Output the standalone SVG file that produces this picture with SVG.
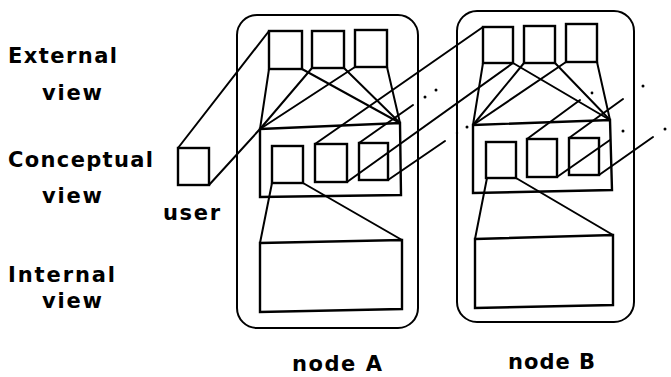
<svg xmlns="http://www.w3.org/2000/svg" width="671" height="377" viewBox="0 0 671 377">
  <style>
    .frame { fill: none; stroke: #000; stroke-width: 2; }
    .box { fill: none; stroke: #000; stroke-width: 2.4; stroke-linejoin: miter; }
    .ln { fill: none; stroke: #000; stroke-width: 2; stroke-linecap: round; }
    .dot { fill: #000; }
    .lbl { font-family: "DejaVu Sans", "Liberation Sans", sans-serif; font-weight: bold; font-size: 21px; fill: #000; }
  </style>
  <rect width="671" height="377" fill="#fff"/>

  <!-- level labels -->
  <g id="labels">
    <text class="lbl" x="8" y="63" textLength="109" lengthAdjust="spacing">External</text>
    <text class="lbl" x="42" y="100" textLength="60" lengthAdjust="spacing">view</text>
    <text class="lbl" x="8" y="167" textLength="145" lengthAdjust="spacing">Conceptual</text>
    <text class="lbl" x="42" y="203" textLength="60" lengthAdjust="spacing">view</text>
    <text class="lbl" x="8" y="282" textLength="107" lengthAdjust="spacing">Internal</text>
    <text class="lbl" x="42" y="308" textLength="60" lengthAdjust="spacing">view</text>
  </g>

  <!-- user -->
  <g id="user">
    <rect class="box" x="178" y="148" width="31" height="37"/>
    <text class="lbl" x="163" y="220" font-size="23" textLength="57" lengthAdjust="spacing">user</text>
  </g>

  <!-- node A -->
  <g id="node-a">
    <rect class="frame" x="237" y="15" width="181" height="313" rx="20"/>
    <rect class="box" x="269" y="31" width="33" height="38"/>
    <rect class="box" x="312" y="31" width="32" height="37"/>
    <rect class="box" x="355" y="30" width="32" height="37"/>
    <polygon class="box" points="260,129 400,123 401,195 260,197"/>
    <rect class="box" x="272" y="146" width="31" height="37"/>
    <rect class="box" x="315" y="144" width="32" height="38"/>
    <rect class="box" x="359" y="143" width="29" height="37"/>
    <polygon class="box" points="260,243 402,240 402,309 260,312"/>
    <text class="lbl" x="292" y="371" textLength="90" lengthAdjust="spacing">node A</text>
  </g>

  <!-- node B -->
  <g id="node-b">
    <rect class="frame" x="457" y="11" width="177" height="311" rx="20"/>
    <rect class="box" x="483" y="27" width="30" height="36"/>
    <rect class="box" x="524" y="26" width="31" height="37"/>
    <rect class="box" x="566" y="24" width="31" height="38"/>
    <polygon class="box" points="473,125 610,120 612,190 473,193"/>
    <rect class="box" x="486" y="142" width="30" height="36"/>
    <rect class="box" x="527" y="139" width="30" height="38"/>
    <rect class="box" x="569" y="138" width="30" height="37"/>
    <polygon class="box" points="475,239 613,235 613,305 475,308"/>
    <text class="lbl" x="508" y="369" textLength="87" lengthAdjust="spacing">node B</text>
  </g>

  <!-- connectors -->
  <g id="connectors">
    <!-- user to node A -->
    <line class="ln" x1="178" y1="148" x2="269" y2="31"/>
    <line class="ln" x1="209" y1="185" x2="260" y2="129"/>

    <!-- node A: external views to conceptual view -->
    <line class="ln" x1="269" y1="69" x2="260" y2="129"/>
    <line class="ln" x1="302" y1="69" x2="400" y2="123"/>
    <line class="ln" x1="312" y1="68" x2="260" y2="129"/>
    <line class="ln" x1="344" y1="68" x2="400" y2="123"/>
    <line class="ln" x1="355" y1="67" x2="260" y2="129"/>
    <line class="ln" x1="387" y1="67" x2="400" y2="123"/>
    <!-- node A: conceptual to internal -->
    <line class="ln" x1="272" y1="183" x2="260" y2="243"/>
    <line class="ln" x1="303" y1="183" x2="402" y2="240"/>

    <!-- node B: external views to conceptual view -->
    <line class="ln" x1="483" y1="63" x2="473" y2="125"/>
    <line class="ln" x1="513" y1="63" x2="610" y2="120"/>
    <line class="ln" x1="524" y1="63" x2="473" y2="125"/>
    <line class="ln" x1="555" y1="63" x2="610" y2="120"/>
    <line class="ln" x1="566" y1="62" x2="473" y2="125"/>
    <line class="ln" x1="597" y1="62" x2="610" y2="120"/>
    <!-- node B: conceptual to internal -->
    <line class="ln" x1="487" y1="178" x2="475" y2="239"/>
    <line class="ln" x1="516" y1="178" x2="613" y2="235"/>

    <!-- node A to node B -->
    <line class="ln" x1="315" y1="144" x2="483" y2="27"/>
    <line class="ln" x1="347" y1="182" x2="513" y2="63"/>

    <!-- outgoing links, continued by dots -->
    <line class="ln" x1="359" y1="143" x2="413" y2="105"/>
    <line class="ln" x1="388" y1="180" x2="445" y2="141"/>
    <line class="ln" x1="527" y1="139" x2="580" y2="100"/>
    <line class="ln" x1="557" y1="177" x2="610" y2="140"/>
    <line class="ln" x1="569" y1="138" x2="623" y2="99"/>
    <line class="ln" x1="599" y1="175" x2="653" y2="137"/>
    <circle class="dot" cx="425" cy="97" r="1.5"/>
    <circle class="dot" cx="436" cy="90" r="1.5"/>
    <circle class="dot" cx="457" cy="133" r="1.2"/>
    <circle class="dot" cx="467" cy="127" r="1.5"/>
    <circle class="dot" cx="592" cy="93" r="1.4"/>
    <circle class="dot" cx="623" cy="131" r="1.5"/>
    <circle class="dot" cx="643" cy="86" r="1.5"/>
    <circle class="dot" cx="665" cy="129" r="1.5"/>
  </g>
</svg>
